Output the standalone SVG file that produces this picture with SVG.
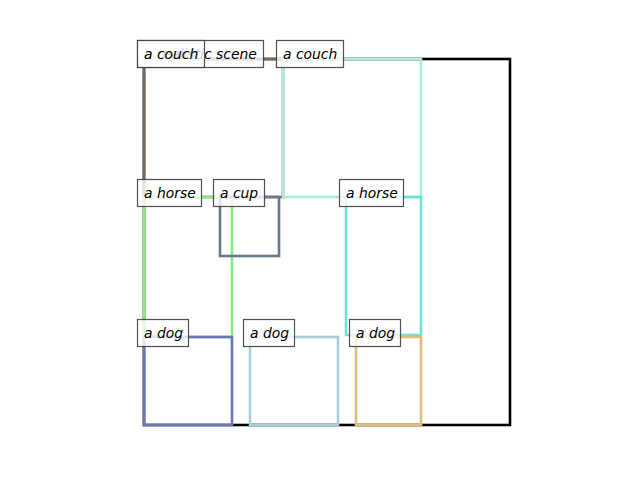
<svg xmlns="http://www.w3.org/2000/svg" width="640" height="480" viewBox="0 0 640 480">
<style>
.b{fill:none;stroke-width:2.6}
.lb rect{fill:#fff;fill-opacity:0.8;stroke:#3f3f3f;stroke-opacity:0.9;stroke-width:1.2}
.lb text{font-family:"DejaVu Sans",sans-serif;font-style:italic;font-size:13.9px;fill:#000}
</style>
<rect width="640" height="480" fill="#fff"/>
<g id="boxes">
<rect id="scene" class="b" x="144" y="59" width="366" height="366" stroke="#000"/>
<rect id="couch1" class="b" x="144" y="59" width="139" height="138" stroke="#756a5c"/>
<rect id="couch2" class="b" x="283" y="59" width="138" height="138" stroke="#aaeed8"/>
<rect id="horse1" class="b" x="144" y="197" width="88" height="140" stroke="#86ee7a"/>
<rect id="cup" class="b" x="220" y="197" width="59" height="59" stroke="#687895"/>
<rect id="horse2" class="b" x="346" y="197" width="75" height="138" stroke="#6ce4d9"/>
<rect id="dog1" class="b" x="144" y="337" width="88" height="88" stroke="#6878b4"/>
<rect id="dog2" class="b" x="250" y="337" width="88" height="88" stroke="#a6cedb"/>
<rect id="dog3" class="b" x="356" y="337" width="65" height="88" stroke="#dfbf7e"/>
</g>
<g id="labels">
<g id="l-scene" class="lb"><rect x="137.5" y="40.5" width="126" height="27"/><text x="144" y="59">a realistic scene</text></g>
<g id="l-couch1" class="lb"><rect x="137.5" y="40.5" width="67" height="27"/><text x="144" y="59">a couch</text></g>
<g id="l-couch2" class="lb"><rect x="276.5" y="40.5" width="67" height="27"/><text x="283" y="59">a couch</text></g>
<g id="l-horse1" class="lb"><rect x="137.5" y="179.5" width="64" height="27"/><text x="144" y="198">a horse</text></g>
<g id="l-cup" class="lb"><rect x="213.5" y="179.5" width="51" height="27"/><text x="220" y="198">a cup</text></g>
<g id="l-horse2" class="lb"><rect x="339.5" y="179.5" width="64" height="27"/><text x="346" y="198">a horse</text></g>
<g id="l-dog1" class="lb"><rect x="137.5" y="319.5" width="51" height="27"/><text x="144" y="338">a dog</text></g>
<g id="l-dog2" class="lb"><rect x="243.5" y="319.5" width="51" height="27"/><text x="250" y="338">a dog</text></g>
<g id="l-dog3" class="lb"><rect x="349.5" y="319.5" width="51" height="27"/><text x="356" y="338">a dog</text></g>
</g>
</svg>
